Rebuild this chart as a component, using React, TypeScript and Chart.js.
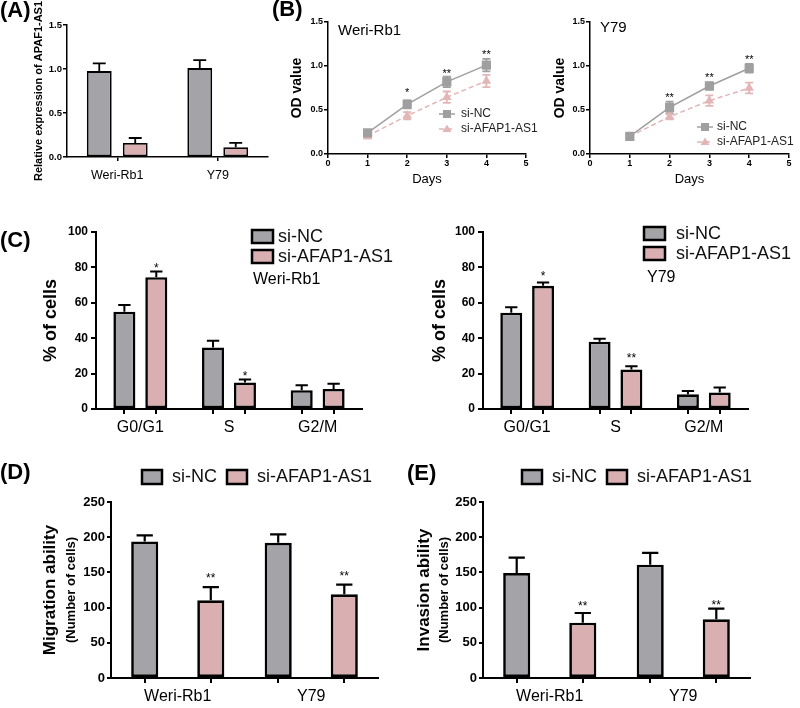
import React, { useEffect, useRef } from 'react';
import { Chart, registerables } from 'chart.js';

Chart.register(...registerables);

const FONT = "'Liberation Sans', Arial, Helvetica, sans-serif";
Chart.defaults.font.family = FONT;
Chart.defaults.color = '#000';

// ---------- shared names ----------
const SERIES = ['si-NC', 'si-AFAP1-AS1'];
const CELL_LINES = ['Weri-Rb1', 'Y79'];
const PANEL_LABELS = ['(A)', '(B)', '(C)', '(D)', '(E)'];
const BAR_GRAY = '#a4a4a8';
const BAR_PINK = '#d9afb1';
const LINE_GRAY = '#9f9f9f';
const LINE_PINK = '#e2b6b6';

// ---------- (A) relative expression ----------
const aTitle = 'Relative expression of APAF1-AS1';
const aYTicks = [0, 0.5, 1.0, 1.5];
const aNC = [0.976, 1.01];
const aNCErr = [0.087, 0.09];
const aKD = [0.16, 0.11];
const aKDErr = [0.056, 0.05];

// ---------- (B) OD value ----------
const bTitle = 'OD value';
const bXTitle = 'Days';
const bDays = [1, 2, 3, 4];
const bXTicks = [0, 1, 2, 3, 4, 5];
const bYTicks = [0, 0.5, 1.0, 1.5];
const bWeriNC = [0.24, 0.565, 0.82, 1.01];
const bWeriNCErr = [0.03, 0.045, 0.06, 0.07];
const bWeriKD = [0.205, 0.435, 0.645, 0.83];
const bWeriKDErr = [0.03, 0.04, 0.065, 0.07];
const bWeriStars = ['', '*', '**', '**'];
const bWeriStarY = [null, 0.73, 0.95, 1.16];
const bY79NC = [0.2, 0.53, 0.773, 0.974];
const bY79NCErr = [0.02, 0.065, 0.04, 0.05];
const bY79KD = [0.2, 0.424, 0.606, 0.75];
const bY79KDErr = [0.02, 0.03, 0.06, 0.06];
const bY79Stars = ['', '**', '**', '**'];
const bY79StarY = [null, 0.67, 0.9, 1.1];

// ---------- (C) cell cycle ----------
const cTitle = '% of cells';
const cPhases = ['G0/G1', 'S', 'G2/M'];
const cYTicks = [0, 20, 40, 60, 80, 100];
const cWeriNC = [55, 34.8, 10.6];
const cWeriNCErr = [3.8, 3.8, 2.8];
const cWeriKD = [74.5, 15, 11.3];
const cWeriKDErr = [3.2, 1.6, 3.0];
const cWeriStars = ['*', '*', ''];
const cWeriStarY = [81.5, 20.5, null];
const cY79NC = [54.4, 38, 8.3];
const cY79NCErr = [3.1, 1.7, 1.9];
const cY79KD = [69.6, 22.3, 9.3];
const cY79KDErr = [1.9, 1.9, 2.8];
const cY79Stars = ['*', '**', ''];
const cY79StarY = [76.8, 30.5, null];

// ---------- (D) migration / (E) invasion ----------
const deYTicks = [0, 50, 100, 150, 200, 250];
const deSubTitle = '(Number of cells)';
const dTitle = 'Migration ability';
const dNC = [194, 192];
const dNCErr = [8.7, 12];
const dKD = [110.3, 118.8];
const dKDErr = [18.7, 13.8];
const dStars = ['**', '**'];
const dStarY = [146, 149];
const eTitle = 'Invasion ability';
const eNC = [149, 161];
const eNCErr = [22, 16.6];
const eKD = [78.6, 83.3];
const eKDErr = [13.7, 15.2];
const eStars = ['**', '**'];
const eStarY = [106.5, 107.5];

// ---------- helpers ----------
type LegendSpec =
  | { kind: 'box'; ds: number; x: number; y: number; w: number; h: number; tx: number; ty: number; size: number }
  | { kind: 'line'; ds: number; x0: number; x1: number; y: number; tx: number; size: number };
type TextSpec = { text: string; x: number; y?: number; size: number; bold?: boolean; rotate?: boolean; align?: CanvasTextAlign };
type Extras = {
  values: number[][];
  errors: number[][];
  mode: 'up' | 'both';
  colors?: string[];
  capHalf?: number;
  capRatio?: number;
  errWidth: number;
  stars?: { ds: number; labels: string[]; ys: (number | null)[]; size: number };
  barTicks?: boolean;
  legend?: LegendSpec[];
  texts?: TextSpec[];
};

const fontStr = (size: number, bold?: boolean) => `${bold ? 'bold ' : ''}${size}px ${FONT}`;

function makeExtras(cfg: Extras) {
  const drawErrors = (chart: any) => {
    const ctx = chart.ctx;
    const ys = chart.scales.y;
    ctx.save();
    cfg.values.forEach((vals, i) => {
      const meta = chart.getDatasetMeta(i);
      meta.data.forEach((el: any, j: number) => {
        const v = vals[j];
        const e = cfg.errors[i][j];
        const x = el.x;
        const top = ys.getPixelForValue(v + e);
        const bot = ys.getPixelForValue(cfg.mode === 'both' ? v - e : v);
        const half = cfg.capHalf != null ? cfg.capHalf : el.width * (cfg.capRatio || 0.28);
        ctx.strokeStyle = cfg.colors ? cfg.colors[i] : '#000';
        ctx.lineWidth = cfg.errWidth;
        ctx.lineCap = 'butt';
        ctx.beginPath();
        ctx.moveTo(x, bot);
        ctx.lineTo(x, top);
        ctx.moveTo(x - half, top);
        ctx.lineTo(x + half, top);
        if (cfg.mode === 'both') {
          ctx.moveTo(x - half, bot);
          ctx.lineTo(x + half, bot);
        }
        ctx.stroke();
      });
    });
    ctx.restore();
  };
  return {
    id: 'extras',
    beforeDatasetsDraw(chart: any) {
      if (cfg.mode === 'both') drawErrors(chart);
    },
    afterDatasetsDraw(chart: any) {
      if (cfg.mode === 'up') drawErrors(chart);
    },
    afterDraw(chart: any) {
      const ctx = chart.ctx;
      const ca = chart.chartArea;
      const ys = chart.scales.y;
      ctx.save();
      if (cfg.barTicks) {
        ctx.strokeStyle = '#000';
        ctx.lineWidth = 2;
        chart.data.datasets.forEach((_d: any, i: number) => {
          chart.getDatasetMeta(i).data.forEach((el: any) => {
            ctx.beginPath();
            ctx.moveTo(Math.round(el.x), ca.bottom);
            ctx.lineTo(Math.round(el.x), ca.bottom + 5);
            ctx.stroke();
          });
        });
      }
      if (cfg.stars) {
        const s = cfg.stars;
        const meta = chart.getDatasetMeta(s.ds);
        ctx.fillStyle = '#000';
        ctx.font = fontStr(s.size);
        ctx.textAlign = 'center';
        ctx.textBaseline = 'alphabetic';
        s.labels.forEach((lab, j) => {
          const yv = s.ys[j];
          if (!lab || yv == null) return;
          const el = meta.data[j];
          ctx.fillText(lab, el.x, ys.getPixelForValue(yv) + 0.57 * s.size);
        });
      }
      (cfg.legend || []).forEach((l) => {
        const ds = chart.data.datasets[l.ds];
        ctx.textAlign = 'left';
        ctx.textBaseline = 'middle';
        if (l.kind === 'box') {
          ctx.fillStyle = ds.backgroundColor;
          ctx.fillRect(l.x, l.y, l.w, l.h);
          ctx.strokeStyle = '#000';
          ctx.lineWidth = 2.5;
          ctx.strokeRect(l.x, l.y, l.w, l.h);
          ctx.fillStyle = '#111';
          ctx.font = fontStr(l.size);
          ctx.fillText(ds.label, l.tx, l.ty);
        } else {
          ctx.strokeStyle = ds.borderColor;
          ctx.lineWidth = 1.5;
          ctx.setLineDash(ds.borderDash || []);
          ctx.beginPath();
          ctx.moveTo(l.x0, l.y);
          ctx.lineTo(l.x1, l.y);
          ctx.stroke();
          ctx.setLineDash([]);
          const cx = (l.x0 + l.x1) / 2;
          ctx.fillStyle = ds.borderColor;
          if (ds.pointStyle === 'triangle') {
            ctx.beginPath();
            ctx.moveTo(cx, l.y - 4.5);
            ctx.lineTo(cx + 4.5, l.y + 3);
            ctx.lineTo(cx - 4.5, l.y + 3);
            ctx.closePath();
            ctx.fill();
          } else {
            ctx.fillRect(cx - 4, l.y - 4, 8, 8);
          }
          ctx.fillStyle = '#222';
          ctx.font = fontStr(l.size);
          ctx.fillText(ds.label, l.tx, l.y);
        }
      });
      (cfg.texts || []).forEach((t) => {
        const y = t.y != null ? t.y : (ca.top + ca.bottom) / 2;
        ctx.fillStyle = '#000';
        ctx.font = fontStr(t.size, t.bold);
        ctx.textBaseline = 'middle';
        ctx.textAlign = t.align || 'left';
        if (t.rotate) {
          ctx.save();
          ctx.translate(t.x, y);
          ctx.rotate(-Math.PI / 2);
          ctx.textAlign = 'center';
          ctx.fillText(t.text, 0, 0);
          ctx.restore();
        } else {
          ctx.fillText(t.text, t.x, y);
        }
      });
      ctx.restore();
    },
  };
}

function yScale(o: {
  ticks: number[]; width: number; decimals: number; tickSize: number; tickLen: number; tickPad: number;
  lw: number; title: string; titleSize: number; titlePad: number;
}) {
  return {
    type: 'linear',
    min: o.ticks[0],
    max: o.ticks[o.ticks.length - 1],
    afterBuildTicks: (s: any) => { s.ticks = o.ticks.map((v) => ({ value: v })); },
    afterFit: (s: any) => { s.width = o.width; },
    ticks: { color: '#000', padding: o.tickPad, font: { size: o.tickSize, weight: 'bold' }, callback: (v: any) => Number(v).toFixed(o.decimals) },
    grid: { display: true, drawOnChartArea: false, drawTicks: true, tickLength: o.tickLen, color: '#000', lineWidth: o.lw },
    border: { display: true, color: '#000', width: o.lw },
    title: { display: true, text: o.title, color: '#000', font: { size: o.titleSize, weight: 'bold' }, padding: { top: o.titlePad, bottom: 0 } },
  };
}

function xCategory(o: { height: number; size: number; pad: number; lw: number; centerTicks: boolean }) {
  return {
    type: 'category',
    offset: true,
    afterFit: (s: any) => { s.height = o.height; },
    ticks: { color: '#000', padding: o.pad, font: { size: o.size }, autoSkip: false, maxRotation: 0 },
    grid: o.centerTicks
      ? { display: true, drawOnChartArea: false, offset: false, drawTicks: true, tickLength: 4, color: '#000', lineWidth: o.lw }
      : { display: false, drawTicks: false, tickLength: 0 },
    border: { display: true, color: '#000', width: o.lw },
  };
}

function barDs(label: string, data: number[], color: string, bw: number, cp: number, bp: number) {
  return { label, data, backgroundColor: color, borderColor: '#000', borderWidth: bw, borderSkipped: false, categoryPercentage: cp, barPercentage: bp };
}

const baseOptions = (padding: any) => ({
  responsive: false,
  maintainAspectRatio: false,
  animation: false,
  layout: { padding },
  plugins: { legend: { display: false }, tooltip: { enabled: false }, title: { display: false } },
});

// ---------- panel configs ----------
function configA() {
  return {
    type: 'bar',
    data: {
      labels: CELL_LINES,
      datasets: [barDs(SERIES[0], aNC, BAR_GRAY, 1.8, 0.716, 0.69), barDs(SERIES[1], aKD, BAR_PINK, 1.8, 0.716, 0.69)],
    },
    options: {
      ...baseOptions({ left: 0, top: 25, right: 17, bottom: 0 }),
      scales: {
        x: xCategory({ height: 38, size: 12.5, pad: 7.5, lw: 1.5, centerTicks: true }),
        y: yScale({ ticks: aYTicks, width: 67, decimals: 1, tickSize: 9.5, tickLen: 4, tickPad: 1, lw: 1.5, title: aTitle, titleSize: 11, titlePad: 32.4 }),
      },
    },
    plugins: [makeExtras({ values: [aNC, aKD], errors: [aNCErr, aKDErr], mode: 'up', errWidth: 1.8, capRatio: 0.26 })],
  };
}

function configB(nc: number[], ncErr: number[], kd: number[], kdErr: number[], stars: string[], starY: (number | null)[],
  cell: string, lay: { yw: number; right: number; titlePad: number; titleX: number; titleY: number; lx0: number; ltx: number; ly: number }) {
  const pts = (vals: number[]) => bDays.map((d, i) => ({ x: d, y: vals[i] }));
  return {
    type: 'line',
    data: {
      datasets: [
        { label: SERIES[0], data: pts(nc), borderColor: LINE_GRAY, backgroundColor: LINE_GRAY, borderWidth: 1.5, tension: 0,
          pointStyle: 'rect', pointRadius: 6.5, pointBorderWidth: 0, pointBackgroundColor: LINE_GRAY },
        { label: SERIES[1], data: pts(kd), borderColor: LINE_PINK, backgroundColor: LINE_PINK, borderWidth: 1.5, tension: 0, borderDash: [5, 3],
          pointStyle: 'triangle', pointRadius: 5.5, pointBorderWidth: 0, pointBackgroundColor: LINE_PINK },
      ],
    },
    options: {
      ...baseOptions({ left: 0, top: 22, right: lay.right, bottom: 0 }),
      scales: {
        x: {
          type: 'linear', min: bXTicks[0], max: bXTicks[bXTicks.length - 1],
          afterBuildTicks: (s: any) => { s.ticks = bXTicks.map((v) => ({ value: v })); },
          afterFit: (s: any) => { s.height = 41; },
          ticks: { color: '#000', padding: 0, font: { size: 9, weight: 'bold' } },
          grid: { display: true, drawOnChartArea: false, drawTicks: true, tickLength: 4, color: '#000', lineWidth: 1.5 },
          border: { display: true, color: '#000', width: 1.5 },
          title: { display: true, text: bXTitle, color: '#000', font: { size: 13 }, padding: { top: 0, bottom: 8.2 } },
        },
        y: yScale({ ticks: bYTicks, width: lay.yw, decimals: 1, tickSize: 9, tickLen: 4, tickPad: 1, lw: 1.5, title: bTitle, titleSize: 14, titlePad: lay.titlePad }),
      },
    },
    plugins: [makeExtras({
      values: [nc, kd], errors: [ncErr, kdErr], mode: 'both', colors: [LINE_GRAY, LINE_PINK], errWidth: 1.8, capHalf: 4,
      stars: { ds: 0, labels: stars, ys: starY, size: 11 },
      legend: [
        { kind: 'line', ds: 0, x0: lay.lx0, x1: lay.lx0 + 16, y: lay.ly, tx: lay.ltx, size: 12 },
        { kind: 'line', ds: 1, x0: lay.lx0, x1: lay.lx0 + 16, y: lay.ly + 15, tx: lay.ltx, size: 12 },
      ],
      texts: [{ text: cell, x: lay.titleX, y: lay.titleY, size: 15 }],
    })],
  };
}

function configC(nc: number[], ncErr: number[], kd: number[], kdErr: number[], stars: string[], starY: (number | null)[],
  cell: string, lay: { yw: number; right: number; titlePad: number; bx: number; by: number; tx: number; cellX: number; cellY: number }) {
  return {
    type: 'bar',
    data: {
      labels: cPhases,
      datasets: [barDs(SERIES[0], nc, BAR_GRAY, 2.6, 0.72, 0.69), barDs(SERIES[1], kd, BAR_PINK, 2.6, 0.72, 0.69)],
    },
    options: {
      ...baseOptions({ left: 0, top: 37, right: lay.right, bottom: 0 }),
      scales: {
        x: xCategory({ height: 31, size: 16, pad: 9.4, lw: 2, centerTicks: false }),
        y: yScale({ ticks: cYTicks, width: lay.yw, decimals: 0, tickSize: 12, tickLen: 5, tickPad: 3, lw: 2, title: cTitle, titleSize: 18, titlePad: lay.titlePad }),
      },
    },
    plugins: [makeExtras({
      values: [nc, kd], errors: [ncErr, kdErr], mode: 'up', errWidth: 2, capRatio: 0.28, barTicks: true,
      stars: { ds: 1, labels: stars, ys: starY, size: 12 },
      legend: [
        { kind: 'box', ds: 0, x: lay.bx, y: lay.by, w: 21, h: 13, tx: lay.tx, ty: lay.by + 7, size: 18 },
        { kind: 'box', ds: 1, x: lay.bx, y: lay.by + 20, w: 21, h: 13, tx: lay.tx, ty: lay.by + 27, size: 18 },
      ],
      texts: [{ text: cell, x: lay.cellX, y: lay.cellY, size: 16 }],
    })],
  };
}

function configDE(nc: number[], ncErr: number[], kd: number[], kdErr: number[], stars: string[], starY: (number | null)[],
  title: string, lay: { yw: number; right: number; titlePad: number; subX: number; bx: number }) {
  return {
    type: 'bar',
    data: {
      labels: CELL_LINES,
      datasets: [barDs(SERIES[0], nc, BAR_GRAY, 2.7, 0.99, 0.41), barDs(SERIES[1], kd, BAR_PINK, 2.7, 0.99, 0.41)],
    },
    options: {
      ...baseOptions({ left: 0, top: 62, right: lay.right, bottom: 0 }),
      scales: {
        x: xCategory({ height: 30, size: 16, pad: 9.4, lw: 2, centerTicks: false }),
        y: yScale({ ticks: deYTicks, width: lay.yw, decimals: 0, tickSize: 13, tickLen: 4, tickPad: 2, lw: 2, title, titleSize: 17, titlePad: lay.titlePad }),
      },
    },
    plugins: [makeExtras({
      values: [nc, kd], errors: [ncErr, kdErr], mode: 'up', errWidth: 2.2, capRatio: 0.3, barTicks: true,
      stars: { ds: 1, labels: stars, ys: starY, size: 12 },
      legend: [
        { kind: 'box', ds: 0, x: lay.bx, y: 30, w: 20, h: 14, tx: lay.bx + 30, ty: 37, size: 18 },
        { kind: 'box', ds: 1, x: lay.bx + 85, y: 30, w: 20, h: 14, tx: lay.bx + 115, ty: 37, size: 18 },
      ],
      texts: [{ text: deSubTitle, x: lay.subX, size: 13, bold: true, rotate: true }],
    })],
  };
}

function ChartCanvas({ x, y, w, h, build }: { x: number; y: number; w: number; h: number; build: () => any }) {
  const ref = useRef<HTMLCanvasElement>(null);
  useEffect(() => {
    const chart = new Chart(ref.current as HTMLCanvasElement, build());
    return () => chart.destroy();
  }, []);
  return <canvas ref={ref} width={w} height={h} style={{ position: 'absolute', left: x, top: y, width: w, height: h }} />;
}

const labelStyle = (left: number, top: number): React.CSSProperties => ({
  position: 'absolute', left, top, font: `bold 22px ${FONT}`, lineHeight: '22px', color: '#000', whiteSpace: 'nowrap',
});

export default function App() {
  return (
    <div style={{ position: 'absolute', left: 0, top: 0, width: 800, height: 708, background: '#fff', overflow: 'hidden' }}>
      <ChartCanvas x={0} y={0} w={285} h={195} build={configA} />
      <ChartCanvas x={285} y={0} w={260} h={195} build={() => configB(bWeriNC, bWeriNCErr, bWeriKD, bWeriKDErr, bWeriStars, bWeriStarY, CELL_LINES[0],
        { yw: 43, right: 19, titlePad: 3.6, titleX: 53, titleY: 31, lx0: 154, ltx: 176, ly: 114 })} />
      <ChartCanvas x={545} y={0} w={255} h={195} build={() => configB(bY79NC, bY79NCErr, bY79KD, bY79KDErr, bY79Stars, bY79StarY, CELL_LINES[1],
        { yw: 45, right: 11, titlePad: 6.6, titleX: 55, titleY: 28, lx0: 152, ltx: 172, ly: 127 })} />
      <ChartCanvas x={0} y={195} w={400} h={245} build={() => configC(cWeriNC, cWeriNCErr, cWeriKD, cWeriKDErr, cWeriStars, cWeriStarY, CELL_LINES[0],
        { yw: 96, right: 38, titlePad: 40.2, bx: 252, by: 35, tx: 278, cellX: 253, cellY: 85 })} />
      <ChartCanvas x={400} y={195} w={400} h={245} build={() => configC(cY79NC, cY79NCErr, cY79KD, cY79KDErr, cY79Stars, cY79StarY, CELL_LINES[1],
        { yw: 83, right: 52, titlePad: 29.2, bx: 244, by: 32, tx: 276, cellX: 247, cellY: 83 })} />
      <ChartCanvas x={0} y={440} w={400} h={268} build={() => configDE(dNC, dNCErr, dKD, dKDErr, dStars, dStarY, dTitle,
        { yw: 111, right: 22, titlePad: 40, subX: 71, bx: 142 })} />
      <ChartCanvas x={400} y={440} w={400} h={268} build={() => configDE(eNC, eNCErr, eKD, eKDErr, eStars, eStarY, eTitle,
        { yw: 83, right: 50, titlePad: 14, subX: 44, bx: 122 })} />
      <div style={labelStyle(0, -1)}>{PANEL_LABELS[0]}</div>
      <div style={labelStyle(272, -2)}>{PANEL_LABELS[1]}</div>
      <div style={labelStyle(0, 229)}>{PANEL_LABELS[2]}</div>
      <div style={labelStyle(0, 461)}>{PANEL_LABELS[3]}</div>
      <div style={labelStyle(407, 462)}>{PANEL_LABELS[4]}</div>
    </div>
  );
}
